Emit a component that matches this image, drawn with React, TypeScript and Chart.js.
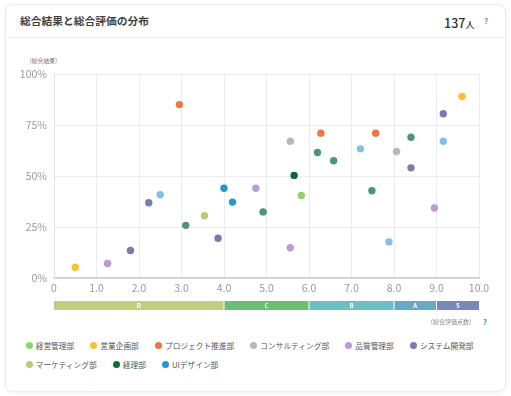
import React, { useEffect, useRef } from 'react';
import { Chart, registerables } from 'chart.js';

Chart.register(...registerables);

const FONT = '"Noto Sans CJK JP", "Noto Sans", sans-serif';

// Series data: [総合評価点数, 総合結果(%)]
const keieiKanri = [[5.82, 40.5]];
const eigyoKikaku = [[0.5, 5.3], [9.6, 89]];
const projectSuishin = [[2.95, 85], [6.28, 71], [7.57, 71]];
const consulting = [[5.56, 67], [8.06, 62]];
const hinshitsuKanri = [[1.26, 7.1], [4.75, 44], [5.56, 14.8], [8.95, 34.3]];
const systemKaihatsu = [[1.8, 13.5], [2.23, 36.9], [3.86, 19.5], [8.4, 54], [9.16, 80.5]];
const marketing = [[3.54, 30.5]];
const keiri = [[5.65, 50.3]];
const uiDesign = [[4.0, 44], [4.2, 37.2]];
const otherTeal = [[3.1, 25.8], [4.92, 32.4], [6.2, 61.5], [6.58, 57.5], [7.48, 42.8], [8.4, 69]];
const otherLightBlue = [[2.5, 40.8], [7.21, 63.3], [7.88, 17.7], [9.16, 67]];

const seriesNames = [
  '経営管理部', '営業企画部', 'プロジェクト推進部', 'コンサルティング部', '品質管理部',
  'システム開発部', 'マーケティング部', '経理部', 'UIデザイン部', '', '',
];
const seriesData = [
  keieiKanri, eigyoKikaku, projectSuishin, consulting, hinshitsuKanri,
  systemKaihatsu, marketing, keiri, uiDesign, otherTeal, otherLightBlue,
];
const seriesColors = [
  '#92d36e', '#fbc02f', '#ee7642', '#b8b8b8', '#bb9bd2',
  '#7a7bae', '#b7cc72', '#0b6b37', '#2b95d0', '#4c9575', '#86c1e5',
];
const legendCount = 9;

const xTickLabels = ['0', '1.0', '2.0', '3.0', '4.0', '5.0', '6.0', '7.0', '8.0', '9.0', '10.0'];
const yTickLabels = ['0%', '25%', '50%', '75%', '100%'];

const gradeLabels = ['D', 'C', 'B', 'A', 'S'];
const gradeFrom = [0, 4, 6, 8, 9];
const gradeTo = [4, 6, 8, 9, 10];
const gradeColors = ['#c1cd80', '#6cbf72', '#6dc0c1', '#6aa8c8', '#7a87b8'];

export default function App() {
  const ref = useRef<HTMLCanvasElement>(null);

  useEffect(() => {
    const canvas = ref.current!;
    const gradePlugin = {
      id: 'gradeBar',
      afterDraw(chart: any) {
        const { ctx, chartArea } = chart;
        const xs = chart.scales.x;
        const top = chartArea.bottom + 23;
        const h = 9;
        ctx.save();
        gradeLabels.forEach((g, i) => {
          const x0 = xs.getPixelForValue(gradeFrom[i]);
          const x1 = xs.getPixelForValue(gradeTo[i]);
          ctx.fillStyle = gradeColors[i];
          ctx.fillRect(x0, top, x1 - x0, h);
          if (i > 0) {
            ctx.fillStyle = '#ffffff';
            ctx.fillRect(x0 - 0.5, top, 1, h);
          }
          ctx.fillStyle = '#ffffff';
          ctx.font = `bold 6px ${FONT}`;
          ctx.textAlign = 'center';
          ctx.textBaseline = 'middle';
          ctx.fillText(g, (x0 + x1) / 2, top + h / 2 + 0.5);
        });
        ctx.restore();
      },
    };

    const chart = new Chart(canvas, {
      type: 'scatter',
      data: {
        datasets: seriesData.map((s, i) => ({
          label: seriesNames[i],
          data: s.map(([x, y]) => ({ x, y })),
          backgroundColor: seriesColors[i],
          borderWidth: 0,
          pointRadius: 3.7,
          pointHoverRadius: 3.7,
        })),
      },
      options: {
        responsive: false,
        maintainAspectRatio: false,
        animation: false,
        layout: { padding: { left: 0, right: 32, top: 34, bottom: 0 } },
        plugins: { legend: { display: false }, tooltip: { enabled: false } },
        scales: {
          x: {
            type: 'linear',
            min: 0,
            max: 10,
            afterFit: (s: any) => { s.height = 42; },
            ticks: {
              stepSize: 1,
              autoSkip: false,
              maxRotation: 0,
              color: '#9a9a9a',
              font: { family: FONT, size: 10.5 },
              padding: 4,
              callback: (_v: any, i: number) => xTickLabels[i],
            },
            grid: { color: '#e9ecf1', drawTicks: false },
            border: { color: '#cccccc', width: 1.5 },
          },
          y: {
            type: 'linear',
            min: 0,
            max: 100,
            afterFit: (s: any) => { s.width = 54; },
            ticks: {
              stepSize: 25,
              color: '#9a9a9a',
              font: { family: FONT, size: 10.5 },
              padding: 7,
              callback: (_v: any, i: number) => yTickLabels[i],
            },
            grid: { color: '#e9ecf1', drawTicks: false },
            border: { color: '#e3e3e3', width: 1 },
          },
        },
      },
      plugins: [gradePlugin],
    } as any);
    return () => chart.destroy();
  }, []);

  const abs = (s: React.CSSProperties): React.CSSProperties => ({ position: 'absolute', whiteSpace: 'nowrap', ...s });

  return (
    <div style={{ position: 'absolute', left: 0, top: 0, width: 511, height: 396, background: '#ffffff', fontFamily: FONT, overflow: 'hidden' }}>
      <div style={abs({ left: 5, top: 4, width: 501, height: 388, boxSizing: 'border-box', border: '1px solid #ececec', borderRadius: 8, background: '#fff', boxShadow: '0 1px 4px rgba(0,0,0,0.06)' })} />
      <div style={abs({ left: 6, top: 37, width: 499, height: 1, background: '#efefef' })} />
      <div style={abs({ left: 20, top: 14, fontSize: 10.75, lineHeight: '14px', fontWeight: 700, color: '#444' })}>総合結果と総合評価の分布</div>
      <div style={abs({ left: 444, top: 13, lineHeight: '16px', color: '#333', fontWeight: 500 })}>
        <span style={{ fontSize: 12.5 }}>137</span>
        <span style={{ fontSize: 9 }}>人</span>
      </div>
      <div style={abs({ left: 484, top: 15, fontSize: 8, lineHeight: '12px', fontWeight: 700, color: '#4a9bd8' })}>?</div>

      <div style={abs({ left: 26, top: 57, fontSize: 5.8, lineHeight: '8px', color: '#777' })}>（総合結果）</div>

      <div style={abs({ left: 0, top: 40, width: 511, height: 280 })}>
        <canvas ref={ref} width={511} height={280} style={{ display: 'block', width: 511, height: 280 }} />
      </div>

      <div style={abs({ left: 427, top: 318, fontSize: 6, lineHeight: '8px', color: '#888' })}>（総合評価点数）</div>
      <div style={abs({ left: 483, top: 316, fontSize: 8, lineHeight: '12px', fontWeight: 700, color: '#3d8fd1' })}>?</div>

      <div style={abs({ left: 25.5, top: 340.7, width: 460, display: 'flex', flexWrap: 'wrap', columnGap: 16, rowGap: 9.3, whiteSpace: 'normal' })}>
        {seriesNames.slice(0, legendCount).map((name, i) => (
          <div key={name} style={{ display: 'flex', alignItems: 'center', height: 10 }}>
            <span style={{ width: 7, height: 7, borderRadius: '50%', background: seriesColors[i], marginRight: 3.2, display: 'inline-block' }} />
            <span style={{ fontSize: 7.7, lineHeight: '10px', color: '#555', whiteSpace: 'nowrap' }}>{name}</span>
          </div>
        ))}
      </div>
    </div>
  );
}
